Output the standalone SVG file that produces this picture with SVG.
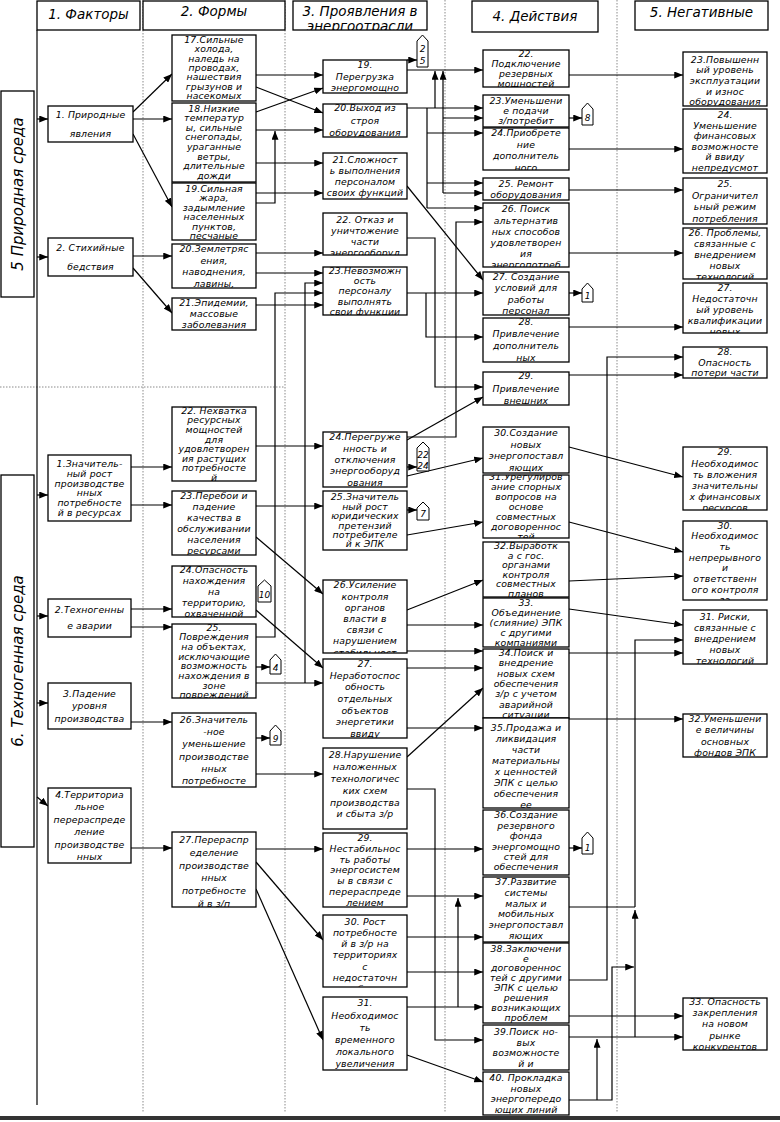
<svg xmlns="http://www.w3.org/2000/svg" width="780" height="1122" viewBox="0 0 780 1122">
<style>
.nb{fill:#fff;stroke:#000;stroke-width:1.3}
.t{font-family:"DejaVu Sans","Liberation Sans",sans-serif;font-style:italic;font-size:9.3px;letter-spacing:0.15px;text-anchor:middle;fill:#000}
.h{font-family:"DejaVu Sans","Liberation Sans",sans-serif;font-style:italic;font-size:13.5px;text-anchor:middle;fill:#000}
.s{font-family:"DejaVu Sans","Liberation Sans",sans-serif;font-style:italic;font-size:15px;text-anchor:middle;fill:#000}
.ln{fill:none;stroke:#000;stroke-width:1.2}
.ar{fill:none;stroke:#000;stroke-width:1.2;marker-end:url(#ah)}
.sep{stroke:#8a8a8a;stroke-width:1;stroke-dasharray:1.5 1.5;fill:none}
.rf{fill:#fff;stroke:#000;stroke-width:1}
.rt{font-family:"DejaVu Sans","Liberation Sans",sans-serif;font-style:italic;font-size:9px;text-anchor:middle;fill:#000}
</style>
<defs>
<marker id="ah" viewBox="0 0 10 8" refX="10" refY="4" markerWidth="9" markerHeight="7" markerUnits="userSpaceOnUse" orient="auto"><path d="M0,0L10,4L0,8z" fill="#000"/></marker>
</defs>
<rect x="0" y="0" width="780" height="1122" fill="#fff"/>

<g id="separators">
<path class="sep" d="M143,0V1112M285,0V1112M445,0V1112M617,0V1112M0,387H285"/>
<rect x="0" y="1116" width="780" height="4" fill="#333"/>
</g>

<g id="headers">
<g id="h1"><rect class="nb" x="37" y="1" width="103" height="29"/><text class="h" x="88.5" y="19">1. Факторы</text></g>
<g id="h2"><rect class="nb" x="143" y="1" width="142" height="29"/><text class="h" x="214" y="16">2. Формы</text></g>
<g id="h3"><rect class="nb" x="293" y="1" width="134" height="29"/><svg x="293" y="1" width="134" height="29"><text class="h" x="67" y="15">3. Проявления в</text><text class="h" x="67" y="30">энергоотрасли</text></svg></g>
<g id="h4"><rect class="nb" x="472" y="1" width="126" height="31"/><text class="h" x="535" y="21">4. Действия</text></g>
<g id="h5"><rect class="nb" x="635" y="1" width="133" height="29"/><text class="h" x="701.5" y="17">5. Негативные</text></g>
</g>

<g id="env">
<g id="env-nature"><rect class="nb" x="1" y="91" width="33" height="206"/><text class="s" transform="translate(23,194) rotate(-90)">5 Природная среда</text></g>
<g id="env-tech"><rect class="nb" x="1" y="475" width="33" height="372"/><text class="s" transform="translate(23,661) rotate(-90)">6. Техногенная среда</text></g>
</g>

<g id="connectors">
<path class="ln" d="M37,30V1105"/>
<path class="ar" d="M37,119H48"/>
<path class="ar" d="M37,257H48"/>
<path class="ar" d="M37,495H48"/>
<path class="ar" d="M37,616H48"/>
<path class="ar" d="M37,703H48"/>
<path class="ar" d="M37,797L48,806"/>

<path class="ar" d="M133,112L172,74"/>
<path class="ar" d="M133,119H172"/>
<path class="ar" d="M133,134L172,207"/>
<path class="ar" d="M133,256H172"/>
<path class="ar" d="M133,268L172,313"/>
<path class="ar" d="M131,467H172"/>
<path class="ar" d="M131,505H172"/>
<path class="ar" d="M131,609H172"/>
<path class="ar" d="M131,627H172"/>
<path class="ar" d="M131,722H172"/>
<path class="ar" d="M131,848H172"/>

<path class="ar" d="M256,75H323"/>
<path class="ar" d="M256,87L323,113"/>
<path class="ar" d="M256,112L323,88"/>
<path class="ar" d="M256,130H323"/>
<path class="ar" d="M256,163H323"/>
<path class="ar" d="M256,193H323"/>
<path class="ar" d="M256,203H275V131"/>
<path class="ar" d="M256,253H323"/>
<path class="ar" d="M256,273H323"/>
<path class="ar" d="M256,305H323"/>
<path class="ar" d="M256,446H323"/>
<path class="ar" d="M256,506H323"/>
<path class="ar" d="M256,537L323,594"/>
<path class="ar" d="M256,610L323,668"/>
<path class="ar" d="M256,637H275V293H323"/>
<path class="ar" d="M256,683H323"/>
<path class="ar" d="M305,683V283H323"/>
<path class="ar" d="M256,667H270"/>
<path class="ar" d="M256,738H270"/>
<path class="ar" d="M256,774H323"/>
<path class="ar" d="M256,849H323"/>
<path class="ar" d="M256,862L323,940"/>
<path class="ar" d="M256,889L323,1040"/>

<path class="ar" d="M407,60H417"/>
<path class="ar" d="M407,70H483"/>
<path class="ar" d="M407,108H483"/>
<path class="ar" d="M435,108V71"/>
<path class="ar" d="M443,193V71"/>
<path class="ar" d="M443,118H483"/>
<path class="ar" d="M443,193H483"/>
<path class="ln" d="M427,108V208"/>
<path class="ar" d="M427,133H483"/>
<path class="ar" d="M427,183H483"/>
<path class="ar" d="M427,208H483"/>
<path class="ar" d="M407,186L483,280"/>
<path class="ar" d="M407,238H435V387H483"/>
<path class="ar" d="M407,293H483"/>
<path class="ar" d="M426,293V337H483"/>
<path class="ar" d="M407,437H456V222H483"/>
<path class="ar" d="M407,440L483,397"/>
<path class="ar" d="M407,467H417"/>
<path class="ar" d="M407,476L483,458"/>
<path class="ar" d="M407,510H417"/>
<path class="ar" d="M407,535L483,522"/>
<path class="ar" d="M407,610L483,580"/>
<path class="ar" d="M407,625H483"/>
<path class="ar" d="M407,651H483"/>
<path class="ar" d="M407,668H483"/>
<path class="ar" d="M407,757L483,688"/>
<path class="ar" d="M407,728H483"/>
<path class="ar" d="M407,789H435V1040H483"/>
<path class="ar" d="M407,849H483"/>
<path class="ar" d="M407,896H483"/>
<path class="ar" d="M407,937H483"/>
<path class="ar" d="M407,972H483"/>
<path class="ar" d="M407,1007H483"/>
<path class="ar" d="M458,1007V898"/>
<path class="ar" d="M407,1055L483,1082"/>

<path class="ar" d="M569,75H683"/>
<path class="ar" d="M569,118H582"/>
<path class="ar" d="M569,149H683"/>
<path class="ar" d="M569,190H683"/>
<path class="ar" d="M569,253H683"/>
<path class="ar" d="M569,293H582"/>
<path class="ar" d="M569,327H683"/>
<path class="ar" d="M569,375H683"/>
<path class="ar" d="M569,980H607V357H683"/>
<path class="ar" d="M569,447L683,477"/>
<path class="ar" d="M569,522L683,552"/>
<path class="ar" d="M569,581L683,576"/>
<path class="ar" d="M569,609L683,625"/>
<path class="ar" d="M569,653H683"/>
<path class="ar" d="M569,719H683"/>
<path class="ar" d="M569,848H582"/>
<path class="ln" d="M569,907H635"/>
<path class="ar" d="M635,907V640H683"/>
<path class="ar" d="M635,1037V910"/>
<path class="ar" d="M569,1037H683"/>
<path class="ar" d="M569,1016H683"/>
<path class="ar" d="M569,1100H612V967H634"/>
<path class="ar" d="M597,1100V1039"/>
</g>

<g id="refs">
<g id="ref-25"><path class="rf" d="M417,41L422.5,35L428,41V67H417Z"/><text class="rt" x="422.5" y="52">2</text><text class="rt" x="422.5" y="64">5</text></g>
<g id="ref-8"><path class="rf" d="M582,109L587.5,103L593,109V125H582Z"/><text class="rt" x="587.5" y="121">8</text></g>
<g id="ref-1a"><path class="rf" d="M582,289L587.5,283L593,289V302H582Z"/><text class="rt" x="587.5" y="299">1</text></g>
<g id="ref-22-24"><path class="rf" d="M417,448L423,442L429,448V471H417Z"/><text class="rt" x="423" y="458">22</text><text class="rt" x="423" y="469">24</text></g>
<g id="ref-7"><path class="rf" d="M417,508L423,502L429,508V520H417Z"/><text class="rt" x="423" y="517">7</text></g>
<g id="ref-10"><path class="rf" d="M258,586L264.5,580L271,586V602H258Z"/><text class="rt" x="264.5" y="598">10</text></g>
<g id="ref-4"><path class="rf" d="M270,660L275.5,654L281,660V674H270Z"/><text class="rt" x="275.5" y="671">4</text></g>
<g id="ref-9"><path class="rf" d="M270,731L275.5,725L281,731V745H270Z"/><text class="rt" x="275.5" y="742">9</text></g>
<g id="ref-1b"><path class="rf" d="M582,838L587.5,832L593,838V854H582Z"/><text class="rt" x="587.5" y="851">1</text></g>
</g>

<g id="col1">
<g id="c1-1"><rect class="nb" x="48" y="106" width="85" height="36"/><svg x="48" y="106" width="85" height="36"><text class="t" y="12"><tspan x="42.5">1. Природные</tspan><tspan x="42.5" dy="19">явления</tspan></text></svg></g>
<g id="c1-2"><rect class="nb" x="48" y="238" width="85" height="38"/><svg x="48" y="238" width="85" height="38"><text class="t" y="13.2"><tspan x="42.5">2. Стихийные</tspan><tspan x="42.5" dy="19">бедствия</tspan></text></svg></g>
<g id="c1-3"><rect class="nb" x="48" y="455" width="83" height="66"/><svg x="48" y="455" width="83" height="66"><text class="t" y="11.9"><tspan x="41.5">1.Значитель-</tspan><tspan x="41.5" dy="9.8">ный рост</tspan><tspan x="41.5" dy="9.8">производстве</tspan><tspan x="41.5" dy="9.8">нных</tspan><tspan x="41.5" dy="9.8">потребносте</tspan><tspan x="41.5" dy="9.8">й в ресурсах</tspan></text></svg></g>
<g id="c1-4"><rect class="nb" x="48" y="599" width="83" height="38"/><svg x="48" y="599" width="83" height="38"><text class="t" y="14.4"><tspan x="41.5">2.Техногенны</tspan><tspan x="41.5" dy="16">е аварии</tspan></text></svg></g>
<g id="c1-5"><rect class="nb" x="48" y="683" width="83" height="46"/><svg x="48" y="683" width="83" height="46"><text class="t" y="13.9"><tspan x="41.5">3.Падение</tspan><tspan x="41.5" dy="12.5">уровня</tspan><tspan x="41.5" dy="12.5">производства</tspan></text></svg></g>
<g id="c1-6"><rect class="nb" x="48" y="788" width="83" height="75"/><svg x="48" y="788" width="83" height="75"><text class="t" y="9.7"><tspan x="41.5">4.Территориа</tspan><tspan x="41.5" dy="12.5">льное</tspan><tspan x="41.5" dy="12.5">перераспреде</tspan><tspan x="41.5" dy="12.5">ление</tspan><tspan x="41.5" dy="12.5">производстве</tspan><tspan x="41.5" dy="12.5">нных</tspan></text></svg></g>
</g>

<g id="col2">
<g id="c2-17"><rect class="nb" x="172" y="35" width="84" height="66"/><svg x="172" y="35" width="84" height="66"><text class="t" y="8"><tspan x="42">17.Сильные</tspan><tspan x="42" dy="9.3">холода,</tspan><tspan x="42" dy="9.3">наледь на</tspan><tspan x="42" dy="9.3">проводах,</tspan><tspan x="42" dy="9.3">нашествия</tspan><tspan x="42" dy="9.3">грызунов и</tspan><tspan x="42" dy="9.3">насекомых</tspan></text></svg></g>
<g id="c2-18"><rect class="nb" x="172" y="103" width="84" height="79"/><svg x="172" y="103" width="84" height="79"><text class="t" y="8.5"><tspan x="42">18.Низкие</tspan><tspan x="42" dy="9.6">температур</tspan><tspan x="42" dy="9.6">ы, сильные</tspan><tspan x="42" dy="9.6">снегопады,</tspan><tspan x="42" dy="9.6">ураганные</tspan><tspan x="42" dy="9.6">ветры,</tspan><tspan x="42" dy="9.6">длительные</tspan><tspan x="42" dy="9.6">дожди</tspan></text></svg></g>
<g id="c2-19"><rect class="nb" x="172" y="183" width="84" height="57"/><svg x="172" y="183" width="84" height="57"><text class="t" y="8.5"><tspan x="42">19.Сильная</tspan><tspan x="42" dy="9.5">жара,</tspan><tspan x="42" dy="9.5">задымление</tspan><tspan x="42" dy="9.5">населенных</tspan><tspan x="42" dy="9.5">пунктов,</tspan><tspan x="42" dy="9.5">песчаные</tspan></text></svg></g>
<g id="c2-20"><rect class="nb" x="172" y="244" width="84" height="44"/><svg x="172" y="244" width="84" height="44"><text class="t" y="8.2"><tspan x="42">20.Землетряс</tspan><tspan x="42" dy="11.5">ения,</tspan><tspan x="42" dy="11.5">наводнения,</tspan><tspan x="42" dy="11.5">лавины,</tspan></text></svg></g>
<g id="c2-21"><rect class="nb" x="172" y="298" width="84" height="32"/><svg x="172" y="298" width="84" height="32"><text class="t" y="8.4"><tspan x="42">21.Эпидемии,</tspan><tspan x="42" dy="11">массовые</tspan><tspan x="42" dy="11">заболевания</tspan></text></svg></g>
<g id="c2-22"><rect class="nb" x="172" y="407" width="84" height="74"/><svg x="172" y="407" width="84" height="74"><text class="t" y="6.8"><tspan x="42">22. Нехватка</tspan><tspan x="42" dy="9.6">ресурсных</tspan><tspan x="42" dy="9.6">мощностей</tspan><tspan x="42" dy="9.6">для</tspan><tspan x="42" dy="9.6">удовлетворен</tspan><tspan x="42" dy="9.6">ия растущих</tspan><tspan x="42" dy="9.6">потребносте</tspan><tspan x="42" dy="9.6">й</tspan></text></svg></g>
<g id="c2-23"><rect class="nb" x="172" y="491" width="84" height="64"/><svg x="172" y="491" width="84" height="64"><text class="t" y="7.9"><tspan x="42">23.Перебои и</tspan><tspan x="42" dy="11">падение</tspan><tspan x="42" dy="11">качества в</tspan><tspan x="42" dy="11">обслуживании</tspan><tspan x="42" dy="11">населения</tspan><tspan x="42" dy="11">ресурсами</tspan></text></svg></g>
<g id="c2-24"><rect class="nb" x="172" y="566" width="84" height="51"/><svg x="172" y="566" width="84" height="51"><text class="t" y="7.3"><tspan x="42">24.Опасность</tspan><tspan x="42" dy="10.8">нахождения</tspan><tspan x="42" dy="10.8">на</tspan><tspan x="42" dy="10.8">территорию,</tspan><tspan x="42" dy="10.8">охваченной</tspan></text></svg></g>
<g id="c2-25"><rect class="nb" x="172" y="624" width="84" height="74"/><svg x="172" y="624" width="84" height="74"><text class="t" y="6.5"><tspan x="42">25.</tspan><tspan x="42" dy="9.7">Повреждения</tspan><tspan x="42" dy="9.7">на объектах,</tspan><tspan x="42" dy="9.7">исключающие</tspan><tspan x="42" dy="9.7">возможность</tspan><tspan x="42" dy="9.7">нахождения в</tspan><tspan x="42" dy="9.7">зоне</tspan><tspan x="42" dy="9.7">повреждений</tspan></text></svg></g>
<g id="c2-26"><rect class="nb" x="172" y="713" width="84" height="74"/><svg x="172" y="713" width="84" height="74"><text class="t" y="9.7"><tspan x="42">26.Значитель</tspan><tspan x="42" dy="12.3">-ное</tspan><tspan x="42" dy="12.3">уменьшение</tspan><tspan x="42" dy="12.3">производстве</tspan><tspan x="42" dy="12.3">нных</tspan><tspan x="42" dy="12.3">потребносте</tspan></text></svg></g>
<g id="c2-27"><rect class="nb" x="172" y="832" width="84" height="75"/><svg x="172" y="832" width="84" height="75"><text class="t" y="10.9"><tspan x="42">27.Перераспр</tspan><tspan x="42" dy="12.8">еделение</tspan><tspan x="42" dy="12.8">производстве</tspan><tspan x="42" dy="12.8">нных</tspan><tspan x="42" dy="12.8">потребносте</tspan><tspan x="42" dy="12.8">й в з/п</tspan></text></svg></g>
</g>

<g id="col3">
<g id="c3-19"><rect class="nb" x="323" y="60" width="84" height="33"/><svg x="323" y="60" width="84" height="33"><text class="t" y="8.4"><tspan x="42">19.</tspan><tspan x="42" dy="11.5">Перегрузка</tspan><tspan x="42" dy="11.5">энергомощно</tspan></text></svg></g>
<g id="c3-20"><rect class="nb" x="323" y="104" width="84" height="33"/><svg x="323" y="104" width="84" height="33"><text class="t" y="7.4"><tspan x="42">20.Выход из</tspan><tspan x="42" dy="12.5">строя</tspan><tspan x="42" dy="12.5">оборудования</tspan></text></svg></g>
<g id="c3-21"><rect class="nb" x="323" y="153" width="84" height="46"/><svg x="323" y="153" width="84" height="46"><text class="t" y="9.9"><tspan x="42">21.Сложност</tspan><tspan x="42" dy="11">ь выполнения</tspan><tspan x="42" dy="11">персоналом</tspan><tspan x="42" dy="11">своих функций</tspan></text></svg></g>
<g id="c3-22"><rect class="nb" x="323" y="213" width="84" height="42"/><svg x="323" y="213" width="84" height="42"><text class="t" y="10.4"><tspan x="42">22. Отказ и</tspan><tspan x="42" dy="10.7">уничтожение</tspan><tspan x="42" dy="10.7">части</tspan><tspan x="42" dy="10.7">энергооборуд</tspan></text></svg></g>
<g id="c3-23"><rect class="nb" x="323" y="267" width="84" height="48"/><svg x="323" y="267" width="84" height="48"><text class="t" y="7"><tspan x="42">23.Невозможн</tspan><tspan x="42" dy="10.2">ость</tspan><tspan x="42" dy="10.2">персоналу</tspan><tspan x="42" dy="10.2">выполнять</tspan><tspan x="42" dy="10.2">свои функции</tspan></text></svg></g>
<g id="c3-24"><rect class="nb" x="323" y="432" width="84" height="55"/><svg x="323" y="432" width="84" height="55"><text class="t" y="8.3"><tspan x="42">24.Перегруже</tspan><tspan x="42" dy="11.3">нность и</tspan><tspan x="42" dy="11.3">отключения</tspan><tspan x="42" dy="11.3">энергооборуд</tspan><tspan x="42" dy="11.3">ования</tspan></text></svg></g>
<g id="c3-25"><rect class="nb" x="323" y="491" width="84" height="59"/><svg x="323" y="491" width="84" height="59"><text class="t" y="9.4"><tspan x="42">25.Значитель</tspan><tspan x="42" dy="9.4">ный рост</tspan><tspan x="42" dy="9.4">юридических</tspan><tspan x="42" dy="9.4">претензий</tspan><tspan x="42" dy="9.4">потребителе</tspan><tspan x="42" dy="9.4">й к ЭПК</tspan></text></svg></g>
<g id="c3-26"><rect class="nb" x="323" y="580" width="84" height="73"/><svg x="323" y="580" width="84" height="73"><text class="t" y="8.3"><tspan x="42">26.Усиление</tspan><tspan x="42" dy="11.2">контроля</tspan><tspan x="42" dy="11.2">органов</tspan><tspan x="42" dy="11.2">власти в</tspan><tspan x="42" dy="11.2">связи с</tspan><tspan x="42" dy="11.2">нарушением</tspan><tspan x="42" dy="11.2">стабильност</tspan></text></svg></g>
<g id="c3-27"><rect class="nb" x="323" y="659" width="84" height="79"/><svg x="323" y="659" width="84" height="79"><text class="t" y="7.8"><tspan x="42">27.</tspan><tspan x="42" dy="11.7">Неработоспос</tspan><tspan x="42" dy="11.7">обность</tspan><tspan x="42" dy="11.7">отдельных</tspan><tspan x="42" dy="11.7">объектов</tspan><tspan x="42" dy="11.7">энергетики</tspan><tspan x="42" dy="11.7">ввиду</tspan></text></svg></g>
<g id="c3-28"><rect class="nb" x="323" y="748" width="84" height="81"/><svg x="323" y="748" width="84" height="81"><text class="t" y="10.4"><tspan x="42">28.Нарушение</tspan><tspan x="42" dy="11.8">наложенных</tspan><tspan x="42" dy="11.8">технологичес</tspan><tspan x="42" dy="11.8">ких схем</tspan><tspan x="42" dy="11.8">производства</tspan><tspan x="42" dy="11.8">и сбыта з/р</tspan></text></svg></g>
<g id="c3-29"><rect class="nb" x="323" y="833" width="84" height="74"/><svg x="323" y="833" width="84" height="74"><text class="t" y="8.3"><tspan x="42">29.</tspan><tspan x="42" dy="10.7">Нестабильнос</tspan><tspan x="42" dy="10.7">ть работы</tspan><tspan x="42" dy="10.7">энергосистем</tspan><tspan x="42" dy="10.7">ы в связи с</tspan><tspan x="42" dy="10.7">перераспреде</tspan><tspan x="42" dy="10.7">лением</tspan></text></svg></g>
<g id="c3-30"><rect class="nb" x="323" y="915" width="84" height="72"/><svg x="323" y="915" width="84" height="72"><text class="t" y="9.5"><tspan x="42">30. Рост</tspan><tspan x="42" dy="11.3">потребносте</tspan><tspan x="42" dy="11.3">й в з/р на</tspan><tspan x="42" dy="11.3">территориях</tspan><tspan x="42" dy="11.3">с</tspan><tspan x="42" dy="11.3">недостаточн</tspan><tspan x="42" dy="11.3">ым объемом</tspan></text></svg></g>
<g id="c3-31"><rect class="nb" x="323" y="997" width="84" height="73"/><svg x="323" y="997" width="84" height="73"><text class="t" y="9.4"><tspan x="42">31.</tspan><tspan x="42" dy="12.2">Необходимос</tspan><tspan x="42" dy="12.2">ть</tspan><tspan x="42" dy="12.2">временного</tspan><tspan x="42" dy="12.2">локального</tspan><tspan x="42" dy="12.2">увеличения</tspan></text></svg></g>
</g>

<g id="col4">
<g id="c4-22"><rect class="nb" x="483" y="50" width="86" height="37"/><svg x="483" y="50" width="86" height="37"><text class="t" y="7.4"><tspan x="43">22.</tspan><tspan x="43" dy="9.7">Подключение</tspan><tspan x="43" dy="9.7">резервных</tspan><tspan x="43" dy="9.7">мощностей</tspan></text></svg></g>
<g id="c4-23"><rect class="nb" x="483" y="95" width="86" height="32"/><svg x="483" y="95" width="86" height="32"><text class="t" y="9.4"><tspan x="43">23.Уменьшени</tspan><tspan x="43" dy="10">е подачи</tspan><tspan x="43" dy="10">з/потребит</tspan></text></svg></g>
<g id="c4-24"><rect class="nb" x="483" y="128" width="86" height="42"/><svg x="483" y="128" width="86" height="42"><text class="t" y="7.9"><tspan x="43">24.Приобрете</tspan><tspan x="43" dy="11.7">ние</tspan><tspan x="43" dy="11.7">дополнитель</tspan><tspan x="43" dy="11.7">ного</tspan></text></svg></g>
<g id="c4-25"><rect class="nb" x="483" y="178" width="86" height="22"/><svg x="483" y="178" width="86" height="22"><text class="t" y="8.9"><tspan x="43">25. Ремонт</tspan><tspan x="43" dy="11">оборудования</tspan></text></svg></g>
<g id="c4-26"><rect class="nb" x="483" y="203" width="86" height="64"/><svg x="483" y="203" width="86" height="64"><text class="t" y="9.4"><tspan x="43">26. Поиск</tspan><tspan x="43" dy="11.2">альтернатив</tspan><tspan x="43" dy="11.2">ных способов</tspan><tspan x="43" dy="11.2">удовлетворен</tspan><tspan x="43" dy="11.2">ия</tspan><tspan x="43" dy="11.2">энергопотреб</tspan></text></svg></g>
<g id="c4-27"><rect class="nb" x="483" y="272" width="86" height="43"/><svg x="483" y="272" width="86" height="43"><text class="t" y="7.5"><tspan x="43">27. Создание</tspan><tspan x="43" dy="11.6">условий для</tspan><tspan x="43" dy="11.6">работы</tspan><tspan x="43" dy="11.6">персонал</tspan></text></svg></g>
<g id="c4-28"><rect class="nb" x="483" y="318" width="86" height="44"/><svg x="483" y="318" width="86" height="44"><text class="t" y="7.4"><tspan x="43">28.</tspan><tspan x="43" dy="12">Привлечение</tspan><tspan x="43" dy="12">дополнитель</tspan><tspan x="43" dy="12">ных</tspan></text></svg></g>
<g id="c4-29"><rect class="nb" x="483" y="372" width="86" height="33"/><svg x="483" y="372" width="86" height="33"><text class="t" y="7.4"><tspan x="43">29.</tspan><tspan x="43" dy="12.5">Привлечение</tspan><tspan x="43" dy="12.5">внешних</tspan></text></svg></g>
<g id="c4-30"><rect class="nb" x="483" y="427" width="86" height="46"/><svg x="483" y="427" width="86" height="46"><text class="t" y="8.9"><tspan x="43">30.Создание</tspan><tspan x="43" dy="11.7">новых</tspan><tspan x="43" dy="11.7">энергопоставл</tspan><tspan x="43" dy="11.7">яющих</tspan></text></svg></g>
<g id="c4-31"><rect class="nb" x="483" y="475" width="86" height="63"/><svg x="483" y="475" width="86" height="63"><text class="t" y="4.9"><tspan x="43">31.Урегулиров</tspan><tspan x="43" dy="10">ание спорных</tspan><tspan x="43" dy="10">вопросов на</tspan><tspan x="43" dy="10">основе</tspan><tspan x="43" dy="10">совместных</tspan><tspan x="43" dy="10">договореннос</tspan><tspan x="43" dy="10">тей</tspan></text></svg></g>
<g id="c4-32"><rect class="nb" x="483" y="542" width="86" height="55"/><svg x="483" y="542" width="86" height="55"><text class="t" y="7.2"><tspan x="43">32.Выработк</tspan><tspan x="43" dy="9.5">а с гос.</tspan><tspan x="43" dy="9.5">органами</tspan><tspan x="43" dy="9.5">контроля</tspan><tspan x="43" dy="9.5">совместных</tspan><tspan x="43" dy="9.5">планов</tspan></text></svg></g>
<g id="c4-33"><rect class="nb" x="483" y="598" width="86" height="49"/><svg x="483" y="598" width="86" height="49"><text class="t" y="8.3"><tspan x="43">33.</tspan><tspan x="43" dy="9.8">Объединение</tspan><tspan x="43" dy="9.8">(слияние) ЭПК</tspan><tspan x="43" dy="9.8">с другими</tspan><tspan x="43" dy="9.8">компаниями</tspan></text></svg></g>
<g id="c4-34"><rect class="nb" x="483" y="649" width="86" height="69"/><svg x="483" y="649" width="86" height="69"><text class="t" y="7"><tspan x="43">34.Поиск и</tspan><tspan x="43" dy="10.3">внедрение</tspan><tspan x="43" dy="10.3">новых схем</tspan><tspan x="43" dy="10.3">обеспечения</tspan><tspan x="43" dy="10.3">з/р с учетом</tspan><tspan x="43" dy="10.3">аварийной</tspan><tspan x="43" dy="10.3">ситуации</tspan></text></svg></g>
<g id="c4-35"><rect class="nb" x="483" y="718" width="86" height="90"/><svg x="483" y="718" width="86" height="90"><text class="t" y="12.9"><tspan x="43">35.Продажа и</tspan><tspan x="43" dy="11">ликвидация</tspan><tspan x="43" dy="11">части</tspan><tspan x="43" dy="11">материальны</tspan><tspan x="43" dy="11">х ценностей</tspan><tspan x="43" dy="11">ЭПК с целью</tspan><tspan x="43" dy="11">обеспечения</tspan><tspan x="43" dy="11">ее</tspan></text></svg></g>
<g id="c4-36"><rect class="nb" x="483" y="810" width="86" height="65"/><svg x="483" y="810" width="86" height="65"><text class="t" y="8.4"><tspan x="43">36.Создание</tspan><tspan x="43" dy="10.4">резервного</tspan><tspan x="43" dy="10.4">фонда</tspan><tspan x="43" dy="10.4">энергомощно</tspan><tspan x="43" dy="10.4">стей для</tspan><tspan x="43" dy="10.4">обеспечения</tspan></text></svg></g>
<g id="c4-37"><rect class="nb" x="483" y="877" width="86" height="65"/><svg x="483" y="877" width="86" height="65"><text class="t" y="8"><tspan x="43">37.Развитие</tspan><tspan x="43" dy="10.8">системы</tspan><tspan x="43" dy="10.8">малых и</tspan><tspan x="43" dy="10.8">мобильных</tspan><tspan x="43" dy="10.8">энергопоставл</tspan><tspan x="43" dy="10.8">яющих</tspan></text></svg></g>
<g id="c4-38"><rect class="nb" x="483" y="943" width="86" height="80"/><svg x="483" y="943" width="86" height="80"><text class="t" y="8.6"><tspan x="43">38.Заключени</tspan><tspan x="43" dy="9.9">е</tspan><tspan x="43" dy="9.9">договореннос</tspan><tspan x="43" dy="9.9">тей с другими</tspan><tspan x="43" dy="9.9">ЭПК с целью</tspan><tspan x="43" dy="9.9">решения</tspan><tspan x="43" dy="9.9">возникающих</tspan><tspan x="43" dy="9.9">проблем</tspan></text></svg></g>
<g id="c4-39"><rect class="nb" x="483" y="1025" width="86" height="45"/><svg x="483" y="1025" width="86" height="45"><text class="t" y="9.9"><tspan x="43">39.Поиск но-</tspan><tspan x="43" dy="10.7">вых</tspan><tspan x="43" dy="10.7">возможносте</tspan><tspan x="43" dy="10.7">й и</tspan></text></svg></g>
<g id="c4-40"><rect class="nb" x="483" y="1072" width="86" height="43"/><svg x="483" y="1072" width="86" height="43"><text class="t" y="8.9"><tspan x="43">40. Прокладка</tspan><tspan x="43" dy="10.7">новых</tspan><tspan x="43" dy="10.7">энергопередо</tspan><tspan x="43" dy="10.7">ющих линий</tspan></text></svg></g>
</g>

<g id="col5">
<g id="c5-23"><rect class="nb" x="683" y="52" width="84" height="54"/><svg x="683" y="52" width="84" height="54"><text class="t" y="10.5"><tspan x="42">23.Повышенн</tspan><tspan x="42" dy="10.7">ый уровень</tspan><tspan x="42" dy="10.7">эксплуатации</tspan><tspan x="42" dy="10.7">и износ</tspan><tspan x="42" dy="10.7">оборудования</tspan></text></svg></g>
<g id="c5-24"><rect class="nb" x="683" y="109" width="84" height="64"/><svg x="683" y="109" width="84" height="64"><text class="t" y="8.9"><tspan x="42">24.</tspan><tspan x="42" dy="10.6">Уменьшение</tspan><tspan x="42" dy="10.6">финансовых</tspan><tspan x="42" dy="10.6">возможносте</tspan><tspan x="42" dy="10.6">й ввиду</tspan><tspan x="42" dy="10.6">непредусмот</tspan></text></svg></g>
<g id="c5-25"><rect class="nb" x="683" y="178" width="84" height="46"/><svg x="683" y="178" width="84" height="46"><text class="t" y="8.9"><tspan x="42">25.</tspan><tspan x="42" dy="11.7">Ограничител</tspan><tspan x="42" dy="11.7">ьный режим</tspan><tspan x="42" dy="11.7">потребления</tspan></text></svg></g>
<g id="c5-26"><rect class="nb" x="683" y="228" width="84" height="51"/><svg x="683" y="228" width="84" height="51"><text class="t" y="8.4"><tspan x="42">26. Проблемы,</tspan><tspan x="42" dy="11">связанные с</tspan><tspan x="42" dy="11">внедрением</tspan><tspan x="42" dy="11">новых</tspan><tspan x="42" dy="11">технологий</tspan></text></svg></g>
<g id="c5-27"><rect class="nb" x="683" y="283" width="84" height="50"/><svg x="683" y="283" width="84" height="50"><text class="t" y="7.5"><tspan x="42">27.</tspan><tspan x="42" dy="11.2">Недостаточн</tspan><tspan x="42" dy="11.2">ый уровень</tspan><tspan x="42" dy="11.2">квалификации</tspan><tspan x="42" dy="11.2">новых</tspan></text></svg></g>
<g id="c5-28"><rect class="nb" x="683" y="347" width="84" height="31"/><svg x="683" y="347" width="84" height="31"><text class="t" y="8.4"><tspan x="42">28.</tspan><tspan x="42" dy="10.5">Опасность</tspan><tspan x="42" dy="10.5">потери части</tspan></text></svg></g>
<g id="c5-29"><rect class="nb" x="683" y="447" width="84" height="63"/><svg x="683" y="447" width="84" height="63"><text class="t" y="8.4"><tspan x="42">29.</tspan><tspan x="42" dy="11.2">Необходимос</tspan><tspan x="42" dy="11.2">ть вложения</tspan><tspan x="42" dy="11.2">значительны</tspan><tspan x="42" dy="11.2">х финансовых</tspan><tspan x="42" dy="11.2">ресурсов</tspan></text></svg></g>
<g id="c5-30"><rect class="nb" x="683" y="521" width="84" height="79"/><svg x="683" y="521" width="84" height="79"><text class="t" y="7.5"><tspan x="42">30.</tspan><tspan x="42" dy="10.7">Необходимос</tspan><tspan x="42" dy="10.7">ть</tspan><tspan x="42" dy="10.7">непрерывного</tspan><tspan x="42" dy="10.7">и</tspan><tspan x="42" dy="10.7">ответственн</tspan><tspan x="42" dy="10.7">ого контроля</tspan><tspan x="42" dy="10.7">за</tspan></text></svg></g>
<g id="c5-31"><rect class="nb" x="683" y="610" width="84" height="54"/><svg x="683" y="610" width="84" height="54"><text class="t" y="9.5"><tspan x="42">31. Риски,</tspan><tspan x="42" dy="11.2">связанные с</tspan><tspan x="42" dy="11.2">внедрением</tspan><tspan x="42" dy="11.2">новых</tspan><tspan x="42" dy="11.2">технологий</tspan></text></svg></g>
<g id="c5-32"><rect class="nb" x="683" y="714" width="84" height="43"/><svg x="683" y="714" width="84" height="43"><text class="t" y="7.7"><tspan x="42">32.Уменьшени</tspan><tspan x="42" dy="11.5">е величины</tspan><tspan x="42" dy="11.5">основных</tspan><tspan x="42" dy="11.5">фондов ЭПК</tspan></text></svg></g>
<g id="c5-33"><rect class="nb" x="683" y="998" width="84" height="52"/><svg x="683" y="998" width="84" height="52"><text class="t" y="7"><tspan x="42">33. Опасность</tspan><tspan x="42" dy="11.2">закрепления</tspan><tspan x="42" dy="11.2">на новом</tspan><tspan x="42" dy="11.2">рынке</tspan><tspan x="42" dy="11.2">конкурентов</tspan></text></svg></g>
</g>
</svg>
